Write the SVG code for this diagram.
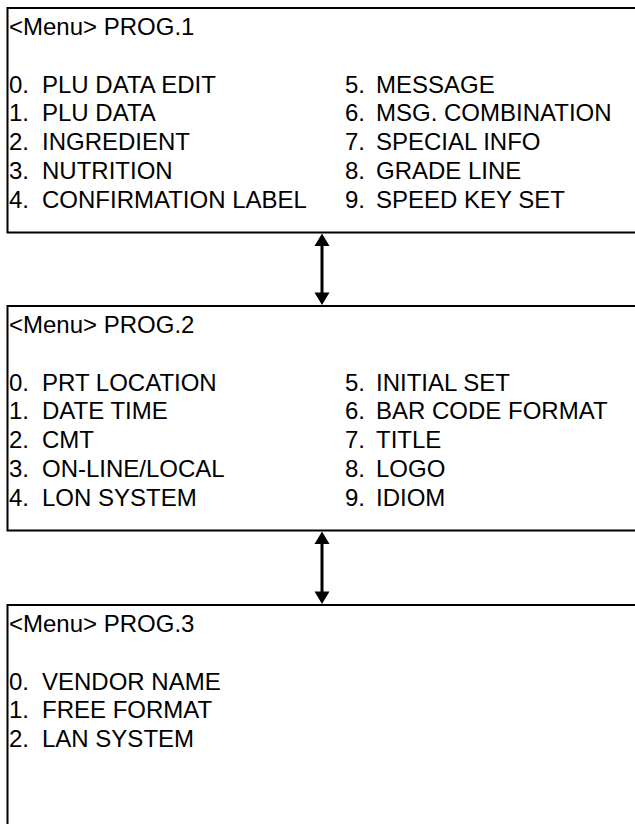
<svg xmlns="http://www.w3.org/2000/svg" width="635" height="824" viewBox="0 0 635 824">
<style>
.box{fill:#fff;stroke:#000;stroke-width:2}
text{font-family:"Liberation Sans",Arial,sans-serif;font-size:24px;fill:#000}
.conn line{stroke:#000;stroke-width:3}
.conn polygon{fill:#000}
</style>
<rect width="635" height="824" fill="#fff"/>
<g id="prog1">
<rect class="box" x="7.5" y="8" width="640" height="224.5"/>
<text x="9" y="35">&lt;Menu&gt; PROG.1</text>
<text y="92.6"><tspan x="9">0.</tspan><tspan x="42">PLU DATA EDIT</tspan></text>
<text y="121.4"><tspan x="9">1.</tspan><tspan x="42">PLU DATA</tspan></text>
<text y="150.2"><tspan x="9">2.</tspan><tspan x="42">INGREDIENT</tspan></text>
<text y="179"><tspan x="9">3.</tspan><tspan x="42">NUTRITION</tspan></text>
<text y="207.8"><tspan x="9">4.</tspan><tspan x="42">CONFIRMATION LABEL</tspan></text>
<text y="92.6"><tspan x="345">5.</tspan><tspan x="376">MESSAGE</tspan></text>
<text y="121.4"><tspan x="345">6.</tspan><tspan x="376">MSG. COMBINATION</tspan></text>
<text y="150.2"><tspan x="345">7.</tspan><tspan x="376">SPECIAL INFO</tspan></text>
<text y="179"><tspan x="345">8.</tspan><tspan x="376">GRADE LINE</tspan></text>
<text y="207.8"><tspan x="345">9.</tspan><tspan x="376">SPEED KEY SET</tspan></text>
</g>
<g id="prog2">
<rect class="box" x="7.5" y="306" width="640" height="224.5"/>
<text x="9" y="333">&lt;Menu&gt; PROG.2</text>
<text y="390.6"><tspan x="9">0.</tspan><tspan x="42">PRT LOCATION</tspan></text>
<text y="419.4"><tspan x="9">1.</tspan><tspan x="42">DATE TIME</tspan></text>
<text y="448.2"><tspan x="9">2.</tspan><tspan x="42">CMT</tspan></text>
<text y="477"><tspan x="9">3.</tspan><tspan x="42">ON-LINE/LOCAL</tspan></text>
<text y="505.8"><tspan x="9">4.</tspan><tspan x="42">LON SYSTEM</tspan></text>
<text y="390.6"><tspan x="345">5.</tspan><tspan x="376">INITIAL SET</tspan></text>
<text y="419.4"><tspan x="345">6.</tspan><tspan x="376">BAR CODE FORMAT</tspan></text>
<text y="448.2"><tspan x="345">7.</tspan><tspan x="376">TITLE</tspan></text>
<text y="477"><tspan x="345">8.</tspan><tspan x="376">LOGO</tspan></text>
<text y="505.8"><tspan x="345">9.</tspan><tspan x="376">IDIOM</tspan></text>
</g>
<g id="prog3">
<rect class="box" x="7.5" y="605" width="640" height="260"/>
<text x="9" y="632">&lt;Menu&gt; PROG.3</text>
<text y="689.6"><tspan x="9">0.</tspan><tspan x="42">VENDOR NAME</tspan></text>
<text y="718.4"><tspan x="9">1.</tspan><tspan x="42">FREE FORMAT</tspan></text>
<text y="747.2"><tspan x="9">2.</tspan><tspan x="42">LAN SYSTEM</tspan></text>
</g>
<g id="connectors" class="conn">
<line x1="322" y1="244" x2="322" y2="294"/>
<polygon points="322,233.5 314.5,246 329.5,246"/>
<polygon points="322,305 314.5,292.5 329.5,292.5"/>
<line x1="322" y1="542" x2="322" y2="593"/>
<polygon points="322,531.5 314.5,544 329.5,544"/>
<polygon points="322,604 314.5,591.5 329.5,591.5"/>
</g>
</svg>
